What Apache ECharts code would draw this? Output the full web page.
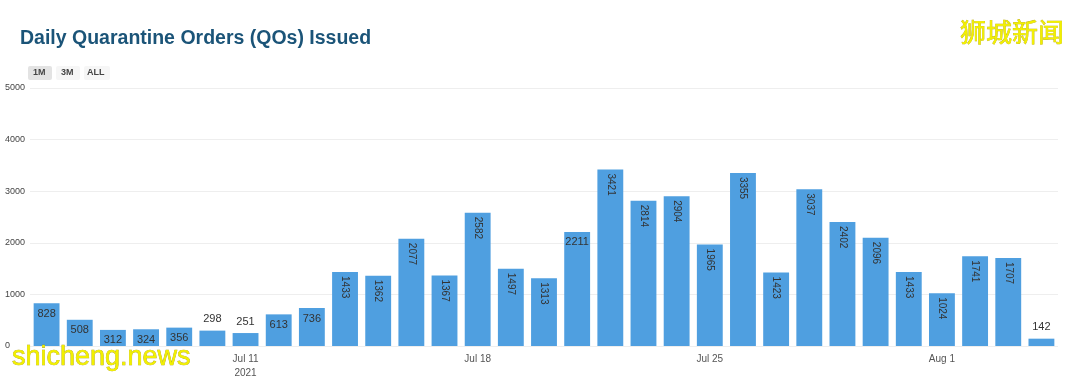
<!DOCTYPE html>
<html>
<head>
<meta charset="utf-8">
<script src="https://cdn.jsdelivr.net/npm/echarts@6/dist/echarts.min.js"></script>
<style>
html, body { margin: 0; padding: 0; background: #fff; }
#container { width: 1080px; height: 377px; }
</style>
</head>
<body>
<div id="container"></div>
<script>
// 数据
var days = ['Jul 5', 'Jul 6', 'Jul 7', 'Jul 8', 'Jul 9', 'Jul 10', 'Jul 11', 'Jul 12', 'Jul 13', 'Jul 14',
    'Jul 15', 'Jul 16', 'Jul 17', 'Jul 18', 'Jul 19', 'Jul 20', 'Jul 21', 'Jul 22', 'Jul 23', 'Jul 24',
    'Jul 25', 'Jul 26', 'Jul 27', 'Jul 28', 'Jul 29', 'Jul 30', 'Jul 31', 'Aug 1', 'Aug 2', 'Aug 3', 'Aug 4'];
var orders = [828, 508, 312, 324, 356, 298, 251, 613, 736, 1433,
    1362, 2077, 1367, 2582, 1497, 1313, 2211, 3421, 2814, 2904,
    1965, 3355, 1423, 3037, 2402, 2096, 1433, 1024, 1741, 1707, 142];
var tickDays = {'Jul 11': 'Jul 11\n2021', 'Jul 18': 'Jul 18', 'Jul 25': 'Jul 25', 'Aug 1': 'Aug 1'};
// 标签位置: 柱子上方的几天, 横排的几天, 其余竖排
var topDays = ['Jul 10', 'Jul 11', 'Aug 4'];
var flatDays = ['Jul 5', 'Jul 6', 'Jul 7', 'Jul 8', 'Jul 9', 'Jul 12', 'Jul 13', 'Jul 21'];

var barData = orders.map(function (v, i) {
    var label;
    if (topDays.indexOf(days[i]) >= 0) {
        label = {show: true, position: 'top', distance: 6, fontSize: 11, color: '#333'};
    } else if (flatDays.indexOf(days[i]) >= 0) {
        label = {show: true, position: 'insideTop', distance: 5, fontSize: 11, color: '#333'};
    } else {
        label = {show: true, position: 'insideTop', distance: 4, rotate: -90,
            align: 'left', verticalAlign: 'middle', fontSize: 10, color: '#333'};
    }
    return {value: v, label: label};
});

var dom = document.getElementById("container");
var myChart = echarts.init(dom);
var option = {
    animation: false,
    grid: {left: 30, right: 22, top: 88, bottom: 31, containLabel: false, outerBoundsMode: 'none'},
    graphic: [
        {type: 'text', left: 20, top: 29, style: {text: 'Daily Quarantine Orders (QOs) Issued',
            font: 'bold 19.5px "Liberation Sans", Arial', fill: '#1b5478'}},
        {type: 'rect', shape: {x: 28, y: 66, width: 24, height: 14, r: 2}, style: {fill: '#e3e3e3'}},
        {type: 'rect', shape: {x: 56, y: 66, width: 24, height: 14, r: 2}, style: {fill: '#f6f6f6'}},
        {type: 'rect', shape: {x: 84, y: 66, width: 26, height: 14, r: 2}, style: {fill: '#f6f6f6'}},
        {type: 'text', x: 33, y: 68, style: {text: '1M', font: 'bold 9px "Liberation Sans"', fill: '#444'}},
        {type: 'text', x: 61, y: 68, style: {text: '3M', font: 'bold 9px "Liberation Sans"', fill: '#444'}},
        {type: 'text', x: 87, y: 68, style: {text: 'ALL', font: 'bold 9px "Liberation Sans"', fill: '#444'}},
        {type: 'text', x: 960, y: 19, z: 10, style: {text: '狮城新闻', font: '26px "Noto Sans CJK SC"',
            fill: '#f2f000', stroke: '#b8a800', lineWidth: 0.6, shadowColor: 'rgba(0,0,0,0.35)', shadowBlur: 2, shadowOffsetX: 1, shadowOffsetY: 1}},
        {type: 'text', x: 12, y: 344, z: 10, style: {text: 'shicheng.news', font: '27px "Liberation Sans"',
            fill: '#f2f000', stroke: '#a89a00', lineWidth: 0.6, shadowColor: 'rgba(0,0,0,0.35)', shadowBlur: 2, shadowOffsetX: 1, shadowOffsetY: 1}}
    ],
    xAxis: {
        type: 'category',
        data: days,
        axisLine: {show: false},
        axisTick: {show: false},
        axisLabel: {
            interval: 0,
            margin: 6,
            fontSize: 10,
            color: '#555',
            lineHeight: 14,
            formatter: function (v) { return tickDays[v] || ''; }
        }
    },
    yAxis: {
        type: 'value',
        min: 0,
        max: 5000,
        interval: 1000,
        axisLabel: {fontSize: 9, color: '#444', align: 'left', margin: 25,
            formatter: function (v) { return String(v); }},
        splitLine: {lineStyle: {color: '#eeeeee'}}
    },
    series: [
        {
            type: 'bar',
            data: barData,
            barCategoryGap: '22%',
            itemStyle: {color: '#4f9fe0'}
        }
    ]
};
myChart.setOption(option);
</script>
</body>
</html>
